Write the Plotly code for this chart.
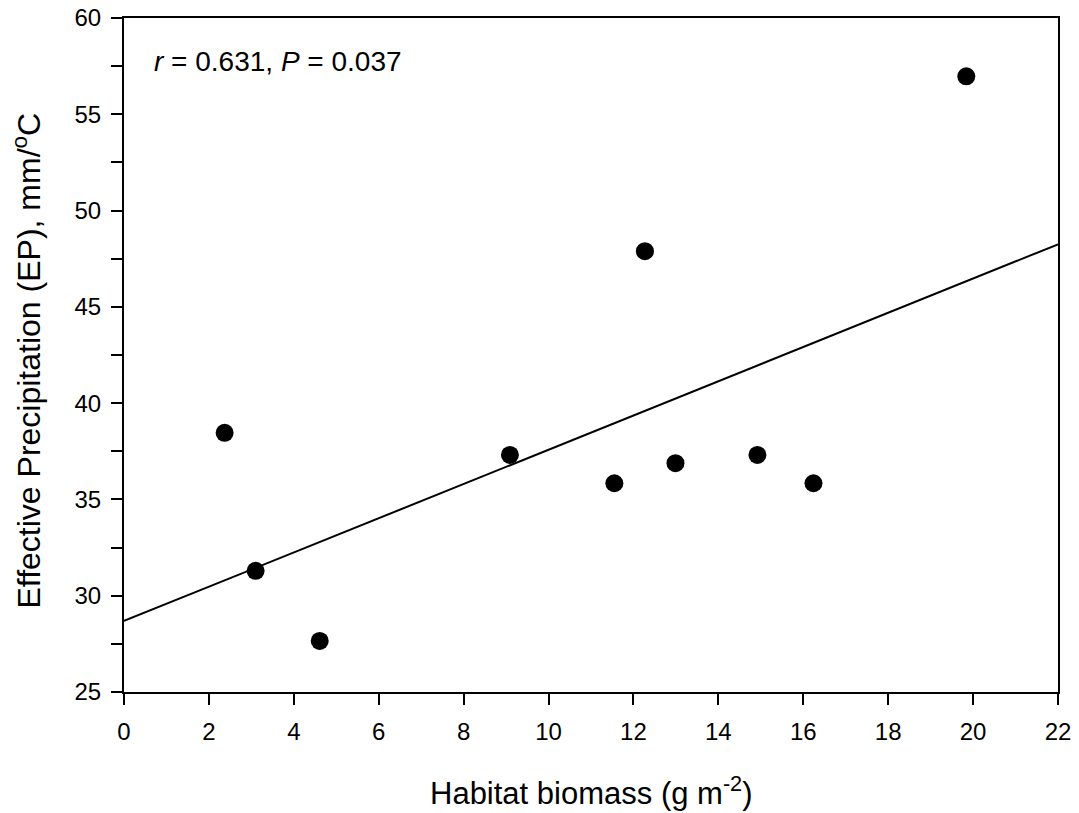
import plotly.graph_objects as go

biomass = [2.37, 3.10, 4.61, 9.09, 11.55, 12.27, 12.99, 14.92, 16.24, 19.84]
ep = [38.46, 31.29, 27.65, 37.31, 35.84, 47.89, 36.88, 37.31, 35.84, 56.97]
x_ticks = list(range(0, 23, 2))
y_ticks = list(range(25, 61, 5))
stats_text = "<i>r</i> = 0.631, <i>P</i> = 0.037"
x_title = "Habitat biomass (g m<sup>-2</sup>)"
y_title = "Effective Precipitation (EP), mm/<sup>o</sup>C"

# regression line
fit_intercept = 28.69
fit_slope = 0.889
line_x = [0, 22]
line_y = [fit_intercept + fit_slope * v for v in line_x]

font = "Liberation Sans, Arial, sans-serif"

fig = go.Figure()
fig.add_trace(go.Scatter(x=line_x, y=line_y, mode="lines",
                         line=dict(color="black", width=2), showlegend=False, hoverinfo="skip"))
fig.add_trace(go.Scatter(x=biomass, y=ep, mode="markers",
                         marker=dict(color="black", size=18), showlegend=False))

fig.update_layout(
    width=1079, height=813,
    margin=dict(l=124, r=21, t=18, b=121, autoexpand=False),
    paper_bgcolor="white", plot_bgcolor="white",
    font=dict(family=font, color="black"),
    xaxis=dict(range=[0, 22], tickvals=x_ticks, ticks="outside", ticklen=11, tickwidth=2,
               tickcolor="black", showline=True, linewidth=2, linecolor="black", mirror=True,
               showgrid=False, zeroline=False, tickfont=dict(size=24), automargin=False,
               ticklabelstandoff=6),
    yaxis=dict(range=[25, 60], tickvals=y_ticks, ticks="outside", ticklen=11, tickwidth=2,
               tickcolor="black", showline=True, linewidth=2, linecolor="black", mirror=True,
               showgrid=False, zeroline=False, tickfont=dict(size=24), automargin=False,
               ticklabelstandoff=5,
               minor=dict(dtick=2.5, ticks="outside", ticklen=11, tickwidth=2, tickcolor="black", showgrid=False)),
    annotations=[
        dict(text=stats_text, x=0.030, y=0.935, xref="paper", yref="paper",
             xanchor="left", yanchor="middle", showarrow=False, font=dict(size=28)),
        dict(text=x_title, x=0.5, y=-0.147, xref="paper", yref="paper",
             xanchor="center", yanchor="middle", showarrow=False, font=dict(size=31)),
        dict(text=y_title, x=-0.1044, y=0.4926, xref="paper", yref="paper", textangle=-90,
             xanchor="center", yanchor="middle", showarrow=False, font=dict(size=32)),
    ],
)

fig.write_html("out.html")
